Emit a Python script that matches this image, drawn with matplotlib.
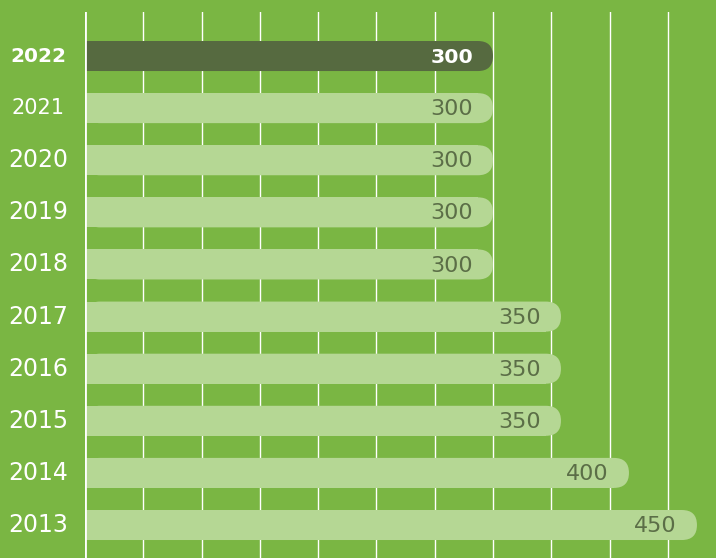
import matplotlib
matplotlib.use("Agg")
import matplotlib.pyplot as plt
from matplotlib.patches import FancyBboxPatch, Rectangle

years = ["2013", "2014", "2015", "2016", "2017", "2018", "2019", "2020", "2021", "2022"]
values = [450, 400, 350, 350, 350, 300, 300, 300, 300, 300]
highlight = "2022"

BG = "#7ab643"
BAR_LIGHT = "#b5d794"
BAR_DARK = "#566a40"
TEXT_DARK = "#5b6e47"

W, H = 716, 558
fig = plt.figure(figsize=(W / 100, H / 100), dpi=100, facecolor=BG)
ax = fig.add_axes([85 / W, 0, 1 - 85 / W, 1 - 12 / H], facecolor=BG)

xmax = 464
ax.set_xlim(0, xmax)
ax.set_ylim(-0.633, 9.845)

# white vertical grid, one line every 300/7 units
step = 300 / 7
k = 1
while k * step < xmax:
    ax.axvline(k * step, color="white", lw=1.0, zorder=0)
    k += 1
ax.axvline(0, color="white", lw=2.0, zorder=3)

for s in ax.spines.values():
    s.set_visible(False)
ax.set_xticks([])
ax.set_yticks([])

fig.canvas.draw()
# pixel size of one data unit on each axis
p0 = ax.transData.transform((0, 0))
p1 = ax.transData.transform((1, 1))
px_x = p1[0] - p0[0]
px_y = p1[1] - p0[1]

bar_h = 0.576
r_px = bar_h * px_y / 2
r_x = r_px / px_x
aspect = px_x / px_y

for i, (yr, v) in enumerate(zip(years, values)):
    hl = yr == highlight
    col = BAR_DARK if hl else BAR_LIGHT
    y0 = i - bar_h / 2
    ax.add_patch(FancyBboxPatch((0, y0), v, bar_h,
                                boxstyle=f"round,pad=0,rounding_size={r_x}",
                                mutation_aspect=aspect,
                                fc=col, ec="none", zorder=2))
    ax.add_patch(Rectangle((0, y0), v - r_x, bar_h, fc=col, ec="none", zorder=2))
    ax.text(v - 20 / px_x, i - 0.02, f"{v}", ha="right", va="center",
            fontsize=14.7 if hl else 16,
            fontweight="bold" if hl else "normal",
            color="white" if hl else TEXT_DARK, zorder=4)
    fs = 14.5 if hl else (15 if yr == "2021" else 17)
    fig.text(38 / W, ax.transData.transform((0, i))[1] / H, yr,
             ha="center", va="center", fontsize=fs,
             fontweight="bold" if hl else "normal", color="white")

fig.savefig("out.png", dpi=100, facecolor=BG)
